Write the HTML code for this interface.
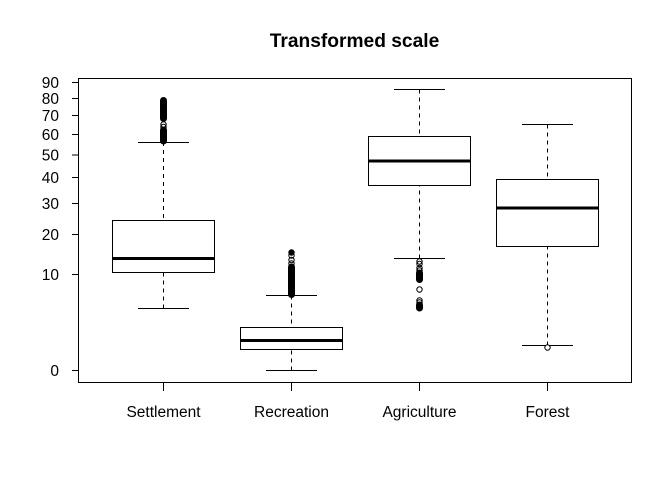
<!DOCTYPE html>
<html><head><meta charset="utf-8"><style>
html,body{margin:0;padding:0;background:#fff;}
svg{display:block;}
text{font-family:"Liberation Sans",Arial,sans-serif;fill:#000;}
</style></head><body>
<svg width="672" height="480" viewBox="0 0 672 480" xmlns="http://www.w3.org/2000/svg">
<rect width="672" height="480" fill="#fff"/>
<text x="354.5" y="47" font-size="19.2" font-weight="bold" text-anchor="middle">Transformed scale</text>
<rect x="78.5" y="78.5" width="553" height="304" fill="none" stroke="#000" stroke-width="1"/>
<g stroke="#000" stroke-width="1">
<line x1="72" y1="370.5" x2="78.5" y2="370.5"/>
<line x1="72" y1="274.5" x2="78.5" y2="274.5"/>
<line x1="72" y1="234.5" x2="78.5" y2="234.5"/>
<line x1="72" y1="203.5" x2="78.5" y2="203.5"/>
<line x1="72" y1="177.5" x2="78.5" y2="177.5"/>
<line x1="72" y1="155" x2="78.5" y2="155"/>
<line x1="72" y1="134.5" x2="78.5" y2="134.5"/>
<line x1="72" y1="115.5" x2="78.5" y2="115.5"/>
<line x1="72" y1="98.5" x2="78.5" y2="98.5"/>
<line x1="72" y1="82.5" x2="78.5" y2="82.5"/>
<line x1="163.5" y1="382.5" x2="163.5" y2="391"/>
<line x1="291.5" y1="382.5" x2="291.5" y2="391"/>
<line x1="419.5" y1="382.5" x2="419.5" y2="391"/>
<line x1="547.5" y1="382.5" x2="547.5" y2="391"/>
</g>
<g font-size="15.5" text-anchor="end">
<text x="59" y="376">0</text>
<text x="59" y="280">10</text>
<text x="59" y="240">20</text>
<text x="59" y="209">30</text>
<text x="59" y="183">40</text>
<text x="59" y="160.5">50</text>
<text x="59" y="140">60</text>
<text x="59" y="121">70</text>
<text x="59" y="104">80</text>
<text x="59" y="88">90</text>
</g>
<g font-size="15.5" text-anchor="middle">
<text x="163.5" y="417">Settlement</text>
<text x="291.5" y="417">Recreation</text>
<text x="419.5" y="417">Agriculture</text>
<text x="547.5" y="417">Forest</text>
</g>
<g fill="none" stroke="#000" stroke-width="1">
<line x1="163.5" y1="142" x2="163.5" y2="220.5" stroke-dasharray="4,4"/>
<line x1="163.5" y1="308.5" x2="163.5" y2="272.5" stroke-dasharray="4,4"/>
<line x1="138" y1="142.5" x2="189" y2="142.5"/>
<line x1="138" y1="308.5" x2="189" y2="308.5"/>
<rect x="112.5" y="220.5" width="102" height="52"/>
<line x1="291.5" y1="295.5" x2="291.5" y2="327.5" stroke-dasharray="4,4"/>
<line x1="291.5" y1="370.5" x2="291.5" y2="349.5" stroke-dasharray="4,4"/>
<line x1="266" y1="295.5" x2="317" y2="295.5"/>
<line x1="266" y1="370.5" x2="317" y2="370.5"/>
<rect x="240.5" y="327.5" width="102" height="22"/>
<line x1="419.5" y1="89.5" x2="419.5" y2="136.5" stroke-dasharray="4,4"/>
<line x1="419.5" y1="258.5" x2="419.5" y2="185.5" stroke-dasharray="4,4"/>
<line x1="394" y1="89.5" x2="445" y2="89.5"/>
<line x1="394" y1="258.5" x2="445" y2="258.5"/>
<rect x="368.5" y="136.5" width="102" height="49"/>
<line x1="547.5" y1="124.5" x2="547.5" y2="179.5" stroke-dasharray="4,4"/>
<line x1="547.5" y1="345.5" x2="547.5" y2="246.5" stroke-dasharray="4,4"/>
<line x1="522" y1="124.5" x2="573" y2="124.5"/>
<line x1="522" y1="345.5" x2="573" y2="345.5"/>
<rect x="496.5" y="179.5" width="102" height="67"/>
</g>
<g stroke="#000" stroke-width="3">
<line x1="112.5" y1="258.5" x2="214.5" y2="258.5"/>
<line x1="240.5" y1="340.5" x2="342.5" y2="340.5"/>
<line x1="368.5" y1="161" x2="470.5" y2="161"/>
<line x1="496.5" y1="208" x2="598.5" y2="208"/>
</g>
<g fill="none" stroke="#000" stroke-width="1">
<rect x="160.5" y="97.5" width="6" height="24" rx="3" fill="#000"/>
<circle cx="163.5" cy="124.5" r="2.7"/>
<circle cx="163.5" cy="127" r="2.7"/>
<rect x="160.5" y="127" width="6" height="17" rx="3" fill="#000"/>
<circle cx="291.5" cy="252.5" r="2.7" fill="#000"/>
<circle cx="291.5" cy="255.5" r="2.7"/>
<circle cx="291.5" cy="260" r="2.7"/>
<circle cx="291.5" cy="263.5" r="2.7"/>
<rect x="288.5" y="264" width="6" height="33.5" rx="3" fill="#000"/>
<circle cx="419.5" cy="261.5" r="2.7"/>
<circle cx="419.5" cy="264" r="2.7"/>
<circle cx="419.5" cy="268" r="2.7"/>
<circle cx="419.5" cy="270.5" r="2.7"/>
<rect x="416.5" y="270" width="6" height="12.5" rx="3" fill="#000"/>
<circle cx="419.5" cy="289.5" r="2.7"/>
<circle cx="419.5" cy="300.5" r="2.7"/>
<circle cx="419.5" cy="302.5" r="2.7"/>
<rect x="416.5" y="302" width="6" height="9" rx="3" fill="#000"/>
<circle cx="419.5" cy="307.5" r="2.7"/>
<circle cx="547.5" cy="347.5" r="2.7" fill="#fff"/>
</g>
</svg>
</body></html>
